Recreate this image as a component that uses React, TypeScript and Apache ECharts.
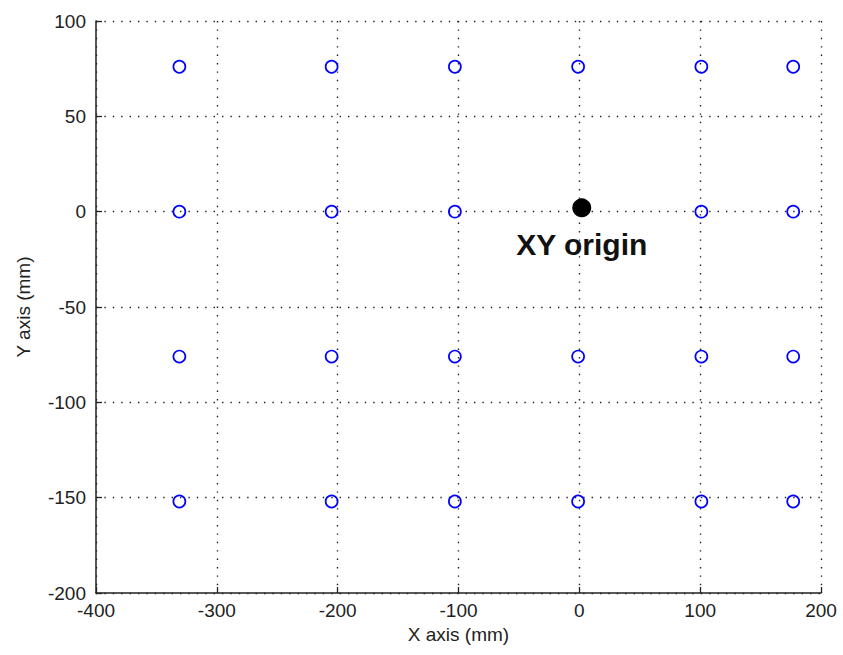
import React, { useEffect, useRef } from "react";
import * as echarts from "echarts";

const xTicks = [-400, -300, -200, -100, 0, 100, 200];
const yTicks = [-200, -150, -100, -50, 0, 50, 100];
const columnX = [-331, -205, -103, -1, 101, 177];
const rowY = [76, 0, -76, -152];
const originPoint = [2, 2];
const originLabel = "XY origin";
const xName = "X axis (mm)";
const yName = "Y axis (mm)";

export default function App() {
  const ref = useRef<HTMLDivElement>(null);
  useEffect(() => {
    if (!ref.current) return;
    const chart = echarts.init(ref.current, null, { renderer: "svg" });
    const bluePoints: number[][] = [];
    rowY.forEach((y) => {
      columnX.forEach((x) => {
        if (y === 0 && x === -1) return;
        bluePoints.push([x, y]);
      });
    });
    const font = "'Liberation Sans', Arial, Helvetica, sans-serif";
    const grid = { type: [1.4, 7], color: "#222", width: 1.4 };
    chart.setOption({
      animation: false,
      backgroundColor: "#fff",
      grid: { left: 96, right: 22, top: 21, bottom: 62 },
      xAxis: {
        type: "value",
        min: xTicks[0],
        max: xTicks[xTicks.length - 1],
        interval: 100,
        name: xName,
        nameLocation: "middle",
        nameGap: 30,
        nameTextStyle: { fontFamily: font, fontSize: 19, color: "#222" },
        axisLine: { show: true, onZero: false, lineStyle: { color: "#222", width: 1.5 } },
        axisTick: { show: true, inside: true, length: 6, lineStyle: { color: "#222", width: 1.3 } },
        axisLabel: { fontFamily: font, fontSize: 19, color: "#222", margin: 8 },
        splitLine: { show: true, lineStyle: grid },
      },
      yAxis: {
        type: "value",
        min: yTicks[0],
        max: yTicks[yTicks.length - 1],
        interval: 50,
        name: yName,
        nameLocation: "middle",
        nameGap: 63,
        nameTextStyle: { fontFamily: font, fontSize: 19, color: "#222" },
        axisLine: { show: true, onZero: false, lineStyle: { color: "#222", width: 1.5 } },
        axisTick: { show: true, inside: true, length: 6, lineStyle: { color: "#222", width: 1.3 } },
        axisLabel: { fontFamily: font, fontSize: 19, color: "#222", margin: 10 },
        splitLine: { show: true, lineStyle: grid },
      },
      series: [
        {
          type: "scatter",
          data: bluePoints,
          symbol: "circle",
          symbolSize: 12,
          itemStyle: { color: "rgba(255,255,255,0)", borderColor: "#0000ff", borderWidth: 1.7, opacity: 1 },
          z: 3,
        },
        {
          type: "scatter",
          data: [originPoint],
          symbol: "circle",
          symbolSize: 19,
          itemStyle: { color: "#000", opacity: 1 },
          label: {
            show: true,
            formatter: originLabel,
            position: "inside",
            offset: [0, 37],
            fontFamily: font,
            fontSize: 30,
            fontWeight: "bold",
            color: "#111",
          },
          z: 4,
        },
      ],
    });
    return () => chart.dispose();
  }, []);
  return <div ref={ref} style={{ width: 843, height: 655, position: "absolute", left: 0, top: 0 }} />;
}
